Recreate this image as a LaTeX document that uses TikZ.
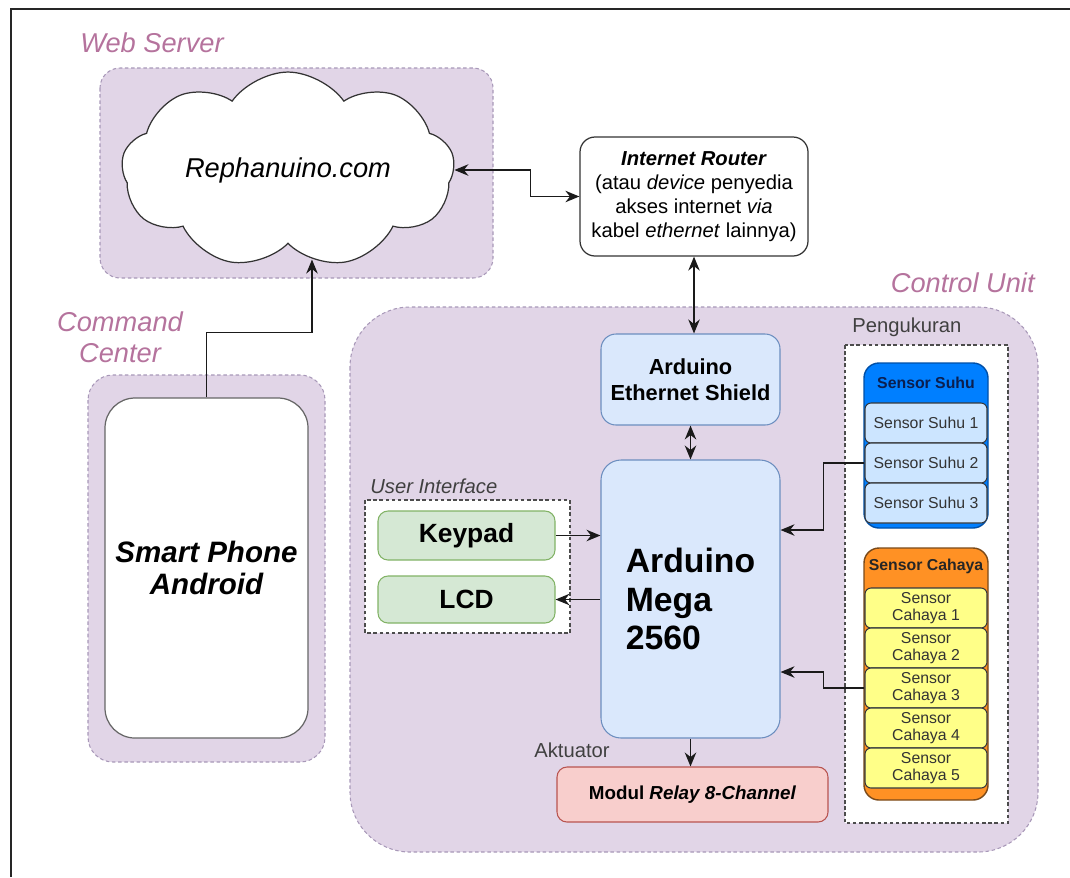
\documentclass[tikz,border=0pt]{standalone}
\usepackage{fontspec}
\setmainfont{Liberation Sans}
\usetikzlibrary{arrows.meta,positioning,shapes.symbols,calc}
\definecolor{groupCol}{HTML}{E1D5E7}
\definecolor{groupLine}{HTML}{A898B8}
\definecolor{titleCol}{HTML}{B5739D}
\definecolor{boardCol}{HTML}{DAE8FC}
\definecolor{boardLine}{HTML}{6C8EBF}
\definecolor{uiCol}{HTML}{D5E8D4}
\definecolor{uiLine}{HTML}{82B366}
\definecolor{relayCol}{HTML}{F8CECC}
\definecolor{relayLine}{HTML}{B85450}
\definecolor{suhuCol}{HTML}{007FFF}
\definecolor{suhuLine}{HTML}{0050A8}
\definecolor{suhuText}{HTML}{0B1F4F}
\definecolor{suhuItemCol}{HTML}{CCE5FF}
\definecolor{cahayaCol}{HTML}{FF9124}
\definecolor{cahayaLine}{HTML}{7A4A1A}
\definecolor{cahayaItemCol}{HTML}{FFFF88}
\definecolor{itemLine}{HTML}{36393D}
\definecolor{edgeColor}{HTML}{1A1A1A}
\tikzstyle{group}=[draw=groupLine, fill=groupCol, dash pattern=on 2pt off 1.5pt, line width=0.6pt]
\tikzstyle{grouptitle}=[text=titleCol, font=\fontsize{15.5}{17.5}\selectfont\itshape, inner sep=0pt, align=center]
\tikzstyle{label}=[text=black!75, font=\fontsize{11.5}{13}\selectfont, inner sep=0pt]
\tikzstyle{frame}=[draw=black!70, fill=white, dash pattern=on 2pt off 1.5pt, line width=0.6pt]
\tikzstyle{board}=[draw=boardLine, fill=boardCol, rounded corners=0.3cm, align=center, inner sep=0pt, line width=0.6pt]
\tikzstyle{uibox}=[draw=uiLine, fill=uiCol, rounded corners=0.2cm, inner sep=0pt, line width=0.6pt,
    minimum width=3.54cm, font=\fontsize{15}{17}\selectfont\bfseries]
\tikzstyle{sensoritem}=[draw=itemLine, rounded corners=0.12cm, inner sep=0pt, line width=0.6pt, align=center,
    minimum width=2.44cm, minimum height=0.8cm, text=black!80, font=\fontsize{9}{9.5}\selectfont]
\tikzstyle{connection}=[draw=edgeColor, line width=0.75pt, -{Stealth[length=2.8mm,width=2.3mm]}]
\tikzstyle{biconnection}=[draw=edgeColor, line width=0.75pt, {Stealth[length=2.8mm,width=2.3mm]}-{Stealth[length=2.8mm,width=2.3mm]}]

\begin{document}
\begin{tikzpicture}

    \useasboundingbox (0,0) rectangle (21.4,-17.54);
    \draw[line width=1.5pt, black!85] (0.22,-17.54) -- (0.22,-0.18) -- (21.4,-0.18);

    % ==== GROUPS ====
    \draw[group, rounded corners=0.4cm] (2.0,-1.36) rectangle (9.86,-5.56);
    \node[grouptitle, anchor=west] (t_web) at (1.6,-0.86) {Web Server};

    \draw[group, rounded corners=0.5cm] (1.76,-7.5) rectangle (6.5,-15.24);
    \node[grouptitle] (t_cmd) at (2.4,-6.74) {Command\\Center};

    \draw[group, rounded corners=1.2cm] (7.0,-6.14) rectangle (20.76,-17.04);
    \node[grouptitle, anchor=east] (t_ctrl) at (20.7,-5.66) {Control Unit};

    % === WEB SERVER / ROUTER ===
    \node[cloud, cloud puffs=9, cloud puff arc=110, aspect=1.9, draw=black!80, fill=white, line width=0.7pt,
        minimum width=6.66cm, minimum height=3.64cm, inner sep=0pt,
        font=\fontsize{15.5}{17}\selectfont\itshape] (web) at (5.76,-3.4) {Rephanuino.com};

    \node[draw=black!80, fill=white, rounded corners=0.3cm, line width=0.7pt, align=center, inner sep=0pt,
        minimum width=4.56cm, minimum height=2.38cm, font=\fontsize{11.5}{13.6}\selectfont] (router) at (13.88,-3.93)
        {\textbf{\textit{Internet Router}}\\(atau \textit{device} penyedia\\akses internet \textit{via}\\kabel \textit{ethernet} lainnya)};

    % === COMMAND CENTER ===
    \node[draw=black!60, fill=white, rounded corners=0.6cm, line width=0.7pt, align=center, inner sep=0pt,
        minimum width=4.06cm, minimum height=6.8cm, font=\fontsize{16.8}{18.7}\selectfont\bfseries\itshape]
        (phone) at (4.13,-11.36) {Smart Phone\\Android};

    % === CONTROL UNIT ===
    \node[board, minimum width=3.58cm, minimum height=1.82cm, font=\fontsize{12.4}{14.7}\selectfont\bfseries]
        (shield) at (13.81,-7.59) {Arduino\\Ethernet Shield};
    \node[board, rounded corners=0.4cm, align=left, minimum width=3.58cm, minimum height=5.56cm,
        font=\fontsize{19.2}{22}\selectfont\bfseries] (mega) at (13.81,-11.98) {Arduino\\Mega\\2560};

    \node[label, anchor=west, font=\fontsize{11.5}{13}\selectfont\itshape] (t_ui) at (7.4,-9.72) {User Interface};
    \draw[frame] (7.3,-10.0) rectangle (11.4,-12.66);
    \node[uibox, minimum height=0.98cm] (keypad) at (9.33,-10.71) {Keypad};
    \node[uibox, minimum height=0.94cm] (lcd) at (9.33,-11.99) {LCD};

    \node[label, anchor=west] (t_akt) at (10.68,-15.0) {Aktuator};
    \node[draw=relayLine, fill=relayCol, rounded corners=0.2cm, inner sep=0pt, line width=0.6pt,
        minimum width=5.42cm, minimum height=1.1cm, font=\fontsize{10.7}{12}\selectfont\bfseries]
        (relay) at (13.85,-15.89) {Modul \textit{Relay 8-Channel}};

    % === PENGUKURAN ===
    \node[label, anchor=west] (t_ukur) at (17.04,-6.54) {Pengukuran};
    \draw[frame] (16.9,-6.9) rectangle (20.16,-16.46);

    \node[draw=suhuLine, fill=suhuCol, rounded corners=0.3cm, line width=0.8pt, inner sep=0pt,
        minimum width=2.48cm, minimum height=3.3cm] (suhu) at (18.52,-8.91) {};
    \node[text=suhuText, font=\fontsize{9}{10}\selectfont\bfseries] (suhu_head) at (18.52,-7.66) {Sensor Suhu};
    \foreach \i/\y in {1/-8.46, 2/-9.26, 3/-10.06}
        \node[sensoritem, fill=suhuItemCol] (suhu_\i) at (18.52,\y) {Sensor Suhu \i};

    \node[draw=cahayaLine, fill=cahayaCol, rounded corners=0.3cm, line width=0.8pt, inner sep=0pt,
        minimum width=2.48cm, minimum height=5.04cm] (cahaya) at (18.52,-13.48) {};
    \node[text=black!85, font=\fontsize{9}{10}\selectfont\bfseries] (cahaya_head) at (18.52,-11.32) {Sensor Cahaya};
    \foreach \i/\y in {1/-12.16, 2/-12.96, 3/-13.76, 4/-14.56, 5/-15.36}
        \node[sensoritem, fill=cahayaItemCol] (cahaya_\i) at (18.52,\y) {Sensor\\Cahaya \i};

    % ==== CONNECTIONS ====
    % cloud <-> router
    \draw[biconnection] (web.east) -- ($(web.east -| router.west)+(-0.98,0)$) |- (router.west);
    % phone -> cloud
    \draw[connection] (phone.north) -- ++(0,1.3) -| (web.285);
    % router <-> shield
    \draw[biconnection] (router.south) -- (router.south |- shield.north);
    % shield <-> mega
    \draw[biconnection] (shield.south) -- (mega.north);
    % keypad -> mega, mega -> lcd
    \draw[connection] (keypad.east) -- (keypad.east -| mega.west);
    \draw[connection] (lcd.east -| mega.west) -- (lcd.east);
    % sensors -> mega
    \draw[connection] (suhu_2.west) -- ++(-0.82,0) |- ([yshift=1.38cm]mega.east);
    \draw[connection] (cahaya_3.west) -- ++(-0.82,0) |- ([yshift=-1.46cm]mega.east);
    % mega -> relay
    \draw[connection] (mega.south) -- (mega.south |- relay.north);

\end{tikzpicture}
\end{document}
